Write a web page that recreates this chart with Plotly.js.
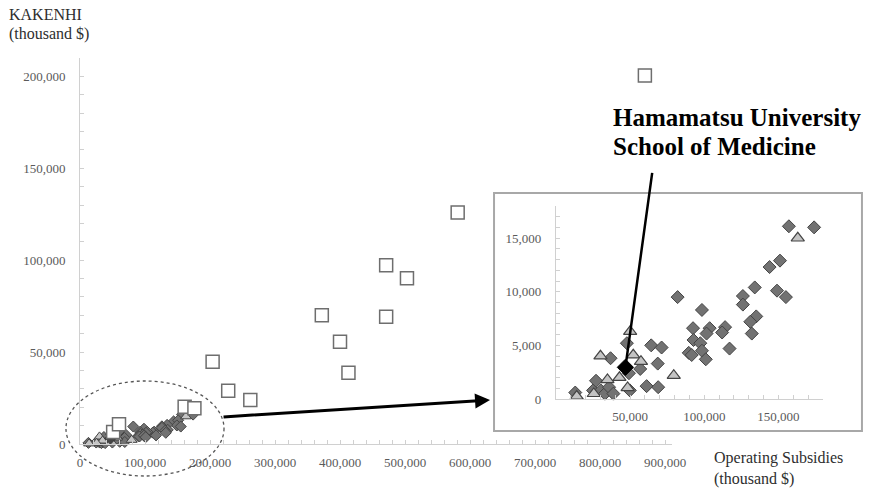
<!DOCTYPE html>
<html><head><meta charset="utf-8">
<script src="https://cdn.plot.ly/plotly-3.0.1.min.js"></script>
<style>html,body{margin:0;padding:0;background:#fff}</style>
</head><body><div id="chart" style="width:869px;height:488px"></div>
<script>
// Values in thousand $
const squareX = [51000, 60000, 161000, 176000, 204000, 228000, 262000, 372000, 400000, 413000, 471000, 471000, 503000, 581000, 869000];
const squareY = [6500, 10800, 20300, 19400, 44700, 29000, 23900, 70100, 55600, 38800, 97300, 69200, 90200, 126000, 200500];

const diamondX = [157000, 174000, 144000, 151000, 149000, 155000, 134000, 126000, 126000, 135000, 131000, 132000, 114000, 112000, 117000,
  98400, 82000, 103600, 101500, 92400, 92700, 97300, 89500, 91500, 98400, 101000, 64200, 71200, 68600, 61100, 68900,
  13000, 25000, 27000, 30200, 33000, 35800, 38700, 36800, 47800, 49200, 49800, 56800];
const diamondY = [16100, 16000, 12300, 12900, 10100, 9500, 10400, 9600, 8800, 7700, 7200, 6100, 6700, 6200, 4700,
  8300, 9500, 6600, 6100, 6600, 5500, 5200, 4300, 4100, 4500, 3700, 5000, 4800, 3300, 1200, 1100,
  600, 800, 1700, 800, 500, 1100, 500, 3800, 5200, 2400, 800, 2800];

const triangleX = [163000, 79400, 50000, 30000, 52100, 57300, 42800, 34700, 48300, 25500, 14000];
const triangleY = [15000, 2200, 6300, 4000, 4100, 3500, 2000, 1800, 1050, 500, 250];

const hamaX = [46800];
const hamaY = [2950];

const hamaLabel = ["Hamamatsu University", "School of Medicine"];
const yTitle = ["KAKENHI", "(thousand $)"];
const xTitle = ["Operating Subsidies", "(thousand $)"];

const serif = "Liberation Serif, Times New Roman, serif";
const tickFont = {family: serif, size: 13, color: "#5a5a5a"};
const axisCol = "#d0d0d0";

const diamondStyleMain = {symbol: "diamond", size: 8.5, color: "#727272", line: {color: "#444444", width: 1}};
const triStyleMain = {symbol: "triangle-up", size: 9.5, color: "#c4c4c4", line: {color: "#444444", width: 1}};
const diamondStyleIn = {symbol: "diamond", size: 10, color: "#727272", line: {color: "#444444", width: 1}};
const triStyleIn = {symbol: "triangle-up", size: 11.5, color: "#c4c4c4", line: {color: "#444444", width: 1.2}};

const traces = [
  {x: diamondX, y: diamondY, xaxis: "x", yaxis: "y", type: "scatter", mode: "markers", marker: diamondStyleMain, cliponaxis: false},
  {x: triangleX, y: triangleY, xaxis: "x", yaxis: "y", type: "scatter", mode: "markers", marker: triStyleMain, cliponaxis: false},
  {x: hamaX, y: hamaY, xaxis: "x", yaxis: "y", type: "scatter", mode: "markers", marker: {symbol: "diamond", size: 8.5, color: "#444444", line: {color: "#333", width: 1}}, cliponaxis: false},
  {x: squareX, y: squareY, xaxis: "x", yaxis: "y", type: "scatter", mode: "markers", marker: {symbol: "square", size: 13, color: "#ffffff", line: {color: "#6e6e6e", width: 1.5}}, cliponaxis: false},
  {x: diamondX, y: diamondY, xaxis: "x2", yaxis: "y2", type: "scatter", mode: "markers", marker: diamondStyleIn, cliponaxis: false},
  {x: triangleX, y: triangleY, xaxis: "x2", yaxis: "y2", type: "scatter", mode: "markers", marker: triStyleIn, cliponaxis: false},
  {x: hamaX, y: hamaY, xaxis: "x2", yaxis: "y2", type: "scatter", mode: "markers", marker: {symbol: "diamond", size: 12.5, color: "#000000", line: {color: "#000", width: 1}}, cliponaxis: false}
];

const axBase = {showgrid: false, zeroline: false, showline: true, linecolor: axisCol, linewidth: 1,
  ticks: "inside", ticklen: 4, tickcolor: axisCol, tickfont: tickFont, tickformat: ",d", fixedrange: true};

const layout = {
  width: 869, height: 488,
  margin: {l: 80, r: 5, t: 58, b: 44},
  paper_bgcolor: "#ffffff", plot_bgcolor: "rgba(0,0,0,0)",
  showlegend: false,
  xaxis: Object.assign({}, axBase, {domain: [0, 0.7545], range: [0, 910000], dtick: 100000, tick0: 0, anchor: "y",
    ticklabelstandoff: 6, minor: {dtick: 20000, tick0: 0, ticks: "inside", ticklen: 4, tickcolor: axisCol}}),
  yaxis: Object.assign({}, axBase, {domain: [0, 1], range: [0, 210000], dtick: 50000, tick0: 0, anchor: "x",
    ticklabelstandoff: 11, minor: {dtick: 10000, tick0: 0, ticks: "inside", ticklen: 4, tickcolor: axisCol}}),
  xaxis2: Object.assign({}, axBase, {domain: [0.6071, 0.9477], range: [0, 180000], anchor: "y2",
    tickmode: "array", tickvals: [50000, 100000, 150000], ticklabelstandoff: 5,
    minor: {dtick: 10000, tick0: 0, ticks: "inside", ticklen: 4, tickcolor: axisCol}}),
  yaxis2: Object.assign({}, axBase, {domain: [0.1166, 0.6168], range: [0, 18000], dtick: 5000, tick0: 0, anchor: "x2",
    ticklabelstandoff: 11, minor: {dtick: 1000, tick0: 0, ticks: "inside", ticklen: 4, tickcolor: axisCol}}),
  shapes: [
    {type: "rect", xref: "paper", yref: "paper", x0: 0.5281, x1: 0.9974, y0: 0.0337, y1: 0.6503,
      line: {color: "#a8a8a8", width: 2}, fillcolor: "#ffffff", layer: "below"},
    {type: "circle", xref: "paper", yref: "paper", x0: -0.0179, x1: 0.1837, y0: -0.0829, y1: 0.1632,
      line: {color: "#555555", width: 1.3, dash: "dot"}, fillcolor: "rgba(0,0,0,0)", layer: "above"}
  ],
  annotations: [
    {xref: "paper", yref: "paper", x: 0.523, y: 0.114, ax: -268, ay: 17, axref: "pixel", ayref: "pixel",
      showarrow: true, arrowhead: 2, arrowsize: 1, arrowwidth: 3, arrowcolor: "#000", text: ""},
    {xref: "x2", yref: "y2", x: hamaX[0], y: hamaY[0], ax: 27, ay: -196, showarrow: true, arrowhead: 0,
      arrowwidth: 2.5, arrowcolor: "#000", text: "", standoff: 0},
    {xref: "paper", yref: "paper", x: 0.6773, y: 0.8446, xanchor: "left", yanchor: "middle", showarrow: false,
      text: "<b>" + hamaLabel[0] + "</b>", font: {family: serif, size: 25, color: "#000"}},
    {xref: "paper", yref: "paper", x: 0.6773, y: 0.772, xanchor: "left", yanchor: "middle", showarrow: false,
      text: "<b>" + hamaLabel[1] + "</b>", font: {family: serif, size: 25, color: "#000"}},
    {xref: "paper", yref: "paper", x: -0.0931, y: 1.1114, xanchor: "left", yanchor: "middle", showarrow: false,
      text: yTitle[0], font: {family: serif, size: 16, color: "#2e2e2e"}},
    {xref: "paper", yref: "paper", x: -0.0931, y: 1.0622, xanchor: "left", yanchor: "middle", showarrow: false,
      text: yTitle[1], font: {family: serif, size: 16, color: "#2e2e2e"}},
    {xref: "paper", yref: "paper", x: 0.8061, y: -0.0363, xanchor: "left", yanchor: "middle", showarrow: false,
      text: xTitle[0], font: {family: serif, size: 16, color: "#2e2e2e"}},
    {xref: "paper", yref: "paper", x: 0.8061, y: -0.0907, xanchor: "left", yanchor: "middle", showarrow: false,
      text: xTitle[1], font: {family: serif, size: 16, color: "#2e2e2e"}}
  ]
};

Plotly.newPlot("chart", traces, layout, {displayModeBar: false, staticPlot: true});
</script>
</body></html>
